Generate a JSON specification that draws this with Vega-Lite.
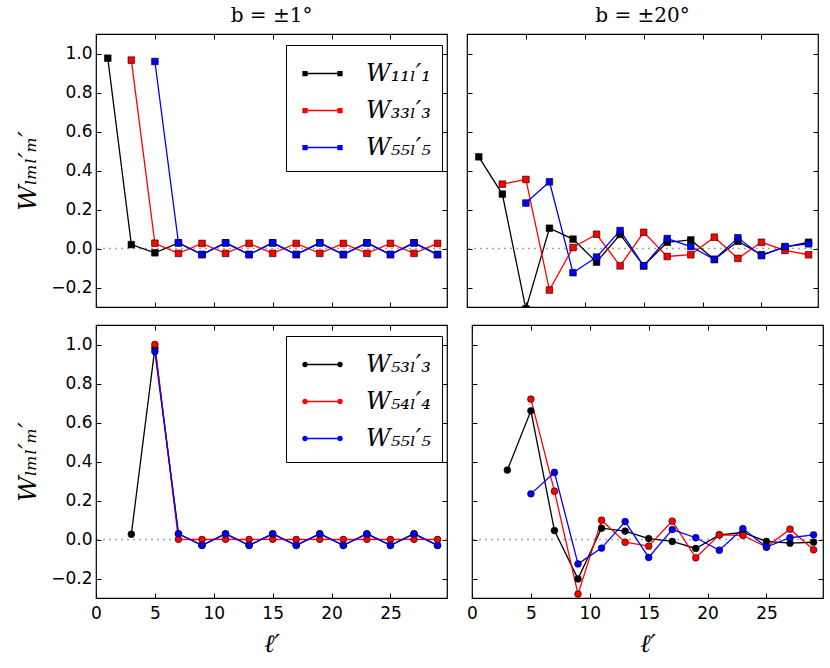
{
  "$schema": "https://vega.github.io/schema/vega-lite/v6.json",
  "padding": {"left": 15, "top": 4, "right": 8, "bottom": 5},
  "background": "white",
  "config": {
    "view": {"stroke": "black", "strokeWidth": 1.2},
    "title": {"font": "DejaVu Serif", "fontSize": 20, "fontWeight": "normal", "color": "black", "offset": 8},
    "axis": {
      "domain": false, "grid": false, "tickColor": "black", "tickSize": -5, "tickWidth": 1,
      "labelFont": "DejaVu Sans", "labelFontSize": 17, "labelColor": "black", "labelPadding": 9, "labelFlush": false,
      "titleFont": "DejaVu Serif", "titleFontStyle": "italic", "titleFontWeight": "normal", "titleFontSize": 25, "titleColor": "black"
    },
    "axisX": {"labelPadding": 12},
    "legend": {
      "orient": "none", "legendX": 190, "legendY": 11, "title": null,
      "strokeColor": "black", "fillColor": "white", "padding": 11, "rowPadding": 7, "cornerRadius": 0,
      "symbolSize": 1225, "symbolOffset": 8, "symbolStrokeWidth": 0, "labelOffset": 26,
      "labelFont": "DejaVu Serif", "labelFontStyle": "italic", "labelFontSize": 24, "labelColor": "black"
    }
  },
  "data": {"values": [
    {"p": "TL", "s": "W₁₁ₗ′₁", "l": 1, "w": 0.976},
    {"p": "TL", "s": "W₁₁ₗ′₁", "l": 3, "w": 0.020},
    {"p": "TL", "s": "W₁₁ₗ′₁", "l": 5, "w": -0.022},
    {"p": "TL", "s": "W₁₁ₗ′₁", "l": 7, "w": 0.029},
    {"p": "TL", "s": "W₁₁ₗ′₁", "l": 9, "w": -0.031},
    {"p": "TL", "s": "W₁₁ₗ′₁", "l": 11, "w": 0.029},
    {"p": "TL", "s": "W₁₁ₗ′₁", "l": 13, "w": -0.031},
    {"p": "TL", "s": "W₁₁ₗ′₁", "l": 15, "w": 0.029},
    {"p": "TL", "s": "W₁₁ₗ′₁", "l": 17, "w": -0.031},
    {"p": "TL", "s": "W₁₁ₗ′₁", "l": 19, "w": 0.029},
    {"p": "TL", "s": "W₁₁ₗ′₁", "l": 21, "w": -0.031},
    {"p": "TL", "s": "W₁₁ₗ′₁", "l": 23, "w": 0.029},
    {"p": "TL", "s": "W₁₁ₗ′₁", "l": 25, "w": -0.031},
    {"p": "TL", "s": "W₁₁ₗ′₁", "l": 27, "w": 0.029},
    {"p": "TL", "s": "W₁₁ₗ′₁", "l": 29, "w": -0.031},
    {"p": "TL", "s": "W₃₃ₗ′₃", "l": 3, "w": 0.966},
    {"p": "TL", "s": "W₃₃ₗ′₃", "l": 5, "w": 0.027},
    {"p": "TL", "s": "W₃₃ₗ′₃", "l": 7, "w": -0.025},
    {"p": "TL", "s": "W₃₃ₗ′₃", "l": 9, "w": 0.026},
    {"p": "TL", "s": "W₃₃ₗ′₃", "l": 11, "w": -0.025},
    {"p": "TL", "s": "W₃₃ₗ′₃", "l": 13, "w": 0.026},
    {"p": "TL", "s": "W₃₃ₗ′₃", "l": 15, "w": -0.025},
    {"p": "TL", "s": "W₃₃ₗ′₃", "l": 17, "w": 0.026},
    {"p": "TL", "s": "W₃₃ₗ′₃", "l": 19, "w": -0.025},
    {"p": "TL", "s": "W₃₃ₗ′₃", "l": 21, "w": 0.026},
    {"p": "TL", "s": "W₃₃ₗ′₃", "l": 23, "w": -0.025},
    {"p": "TL", "s": "W₃₃ₗ′₃", "l": 25, "w": 0.026},
    {"p": "TL", "s": "W₃₃ₗ′₃", "l": 27, "w": -0.025},
    {"p": "TL", "s": "W₃₃ₗ′₃", "l": 29, "w": 0.026},
    {"p": "TL", "s": "W₅₅ₗ′₅", "l": 5, "w": 0.959},
    {"p": "TL", "s": "W₅₅ₗ′₅", "l": 7, "w": 0.029},
    {"p": "TL", "s": "W₅₅ₗ′₅", "l": 9, "w": -0.031},
    {"p": "TL", "s": "W₅₅ₗ′₅", "l": 11, "w": 0.029},
    {"p": "TL", "s": "W₅₅ₗ′₅", "l": 13, "w": -0.031},
    {"p": "TL", "s": "W₅₅ₗ′₅", "l": 15, "w": 0.029},
    {"p": "TL", "s": "W₅₅ₗ′₅", "l": 17, "w": -0.031},
    {"p": "TL", "s": "W₅₅ₗ′₅", "l": 19, "w": 0.029},
    {"p": "TL", "s": "W₅₅ₗ′₅", "l": 21, "w": -0.031},
    {"p": "TL", "s": "W₅₅ₗ′₅", "l": 23, "w": 0.029},
    {"p": "TL", "s": "W₅₅ₗ′₅", "l": 25, "w": -0.031},
    {"p": "TL", "s": "W₅₅ₗ′₅", "l": 27, "w": 0.029},
    {"p": "TL", "s": "W₅₅ₗ′₅", "l": 29, "w": -0.031},

    {"p": "TR", "s": "W₁₁ₗ′₁", "l": 1, "w": 0.470},
    {"p": "TR", "s": "W₁₁ₗ′₁", "l": 3, "w": 0.279},
    {"p": "TR", "s": "W₁₁ₗ′₁", "l": 5, "w": -0.31},
    {"p": "TR", "s": "W₁₁ₗ′₁", "l": 7, "w": 0.104},
    {"p": "TR", "s": "W₁₁ₗ′₁", "l": 9, "w": 0.048},
    {"p": "TR", "s": "W₁₁ₗ′₁", "l": 11, "w": -0.070},
    {"p": "TR", "s": "W₁₁ₗ′₁", "l": 13, "w": 0.072},
    {"p": "TR", "s": "W₁₁ₗ′₁", "l": 15, "w": -0.089},
    {"p": "TR", "s": "W₁₁ₗ′₁", "l": 17, "w": 0.032},
    {"p": "TR", "s": "W₁₁ₗ′₁", "l": 19, "w": 0.044},
    {"p": "TR", "s": "W₁₁ₗ′₁", "l": 21, "w": -0.056},
    {"p": "TR", "s": "W₁₁ₗ′₁", "l": 23, "w": 0.037},
    {"p": "TR", "s": "W₁₁ₗ′₁", "l": 25, "w": -0.032},
    {"p": "TR", "s": "W₁₁ₗ′₁", "l": 27, "w": 0.007},
    {"p": "TR", "s": "W₁₁ₗ′₁", "l": 29, "w": 0.032},
    {"p": "TR", "s": "W₃₃ₗ′₃", "l": 3, "w": 0.330},
    {"p": "TR", "s": "W₃₃ₗ′₃", "l": 5, "w": 0.354},
    {"p": "TR", "s": "W₃₃ₗ′₃", "l": 7, "w": -0.213},
    {"p": "TR", "s": "W₃₃ₗ′₃", "l": 9, "w": 0.005},
    {"p": "TR", "s": "W₃₃ₗ′₃", "l": 11, "w": 0.073},
    {"p": "TR", "s": "W₃₃ₗ′₃", "l": 13, "w": -0.089},
    {"p": "TR", "s": "W₃₃ₗ′₃", "l": 15, "w": 0.083},
    {"p": "TR", "s": "W₃₃ₗ′₃", "l": 17, "w": -0.041},
    {"p": "TR", "s": "W₃₃ₗ′₃", "l": 19, "w": -0.032},
    {"p": "TR", "s": "W₃₃ₗ′₃", "l": 21, "w": 0.058},
    {"p": "TR", "s": "W₃₃ₗ′₃", "l": 23, "w": -0.051},
    {"p": "TR", "s": "W₃₃ₗ′₃", "l": 25, "w": 0.032},
    {"p": "TR", "s": "W₃₃ₗ′₃", "l": 27, "w": -0.010},
    {"p": "TR", "s": "W₃₃ₗ′₃", "l": 29, "w": -0.032},
    {"p": "TR", "s": "W₅₅ₗ′₅", "l": 5, "w": 0.233},
    {"p": "TR", "s": "W₅₅ₗ′₅", "l": 7, "w": 0.342},
    {"p": "TR", "s": "W₅₅ₗ′₅", "l": 9, "w": -0.124},
    {"p": "TR", "s": "W₅₅ₗ′₅", "l": 11, "w": -0.044},
    {"p": "TR", "s": "W₅₅ₗ′₅", "l": 13, "w": 0.092},
    {"p": "TR", "s": "W₅₅ₗ′₅", "l": 15, "w": -0.089},
    {"p": "TR", "s": "W₅₅ₗ′₅", "l": 17, "w": 0.051},
    {"p": "TR", "s": "W₅₅ₗ′₅", "l": 19, "w": 0.010},
    {"p": "TR", "s": "W₅₅ₗ′₅", "l": 21, "w": -0.056},
    {"p": "TR", "s": "W₅₅ₗ′₅", "l": 23, "w": 0.055},
    {"p": "TR", "s": "W₅₅ₗ′₅", "l": 25, "w": -0.037},
    {"p": "TR", "s": "W₅₅ₗ′₅", "l": 27, "w": 0.010},
    {"p": "TR", "s": "W₅₅ₗ′₅", "l": 29, "w": 0.024},

    {"p": "BL", "s": "W₅₃ₗ′₃", "l": 3, "w": 0.027},
    {"p": "BL", "s": "W₅₃ₗ′₃", "l": 5, "w": 0.981},
    {"p": "BL", "s": "W₅₃ₗ′₃", "l": 7, "w": 0.029},
    {"p": "BL", "s": "W₅₃ₗ′₃", "l": 9, "w": -0.030},
    {"p": "BL", "s": "W₅₃ₗ′₃", "l": 11, "w": 0.029},
    {"p": "BL", "s": "W₅₃ₗ′₃", "l": 13, "w": -0.030},
    {"p": "BL", "s": "W₅₃ₗ′₃", "l": 15, "w": 0.029},
    {"p": "BL", "s": "W₅₃ₗ′₃", "l": 17, "w": -0.030},
    {"p": "BL", "s": "W₅₃ₗ′₃", "l": 19, "w": 0.029},
    {"p": "BL", "s": "W₅₃ₗ′₃", "l": 21, "w": -0.030},
    {"p": "BL", "s": "W₅₃ₗ′₃", "l": 23, "w": 0.029},
    {"p": "BL", "s": "W₅₃ₗ′₃", "l": 25, "w": -0.030},
    {"p": "BL", "s": "W₅₃ₗ′₃", "l": 27, "w": 0.029},
    {"p": "BL", "s": "W₅₃ₗ′₃", "l": 29, "w": -0.030},
    {"p": "BL", "s": "W₅₄ₗ′₄", "l": 5, "w": 1.000},
    {"p": "BL", "s": "W₅₄ₗ′₄", "l": 7, "w": 0.001},
    {"p": "BL", "s": "W₅₄ₗ′₄", "l": 9, "w": 0.000},
    {"p": "BL", "s": "W₅₄ₗ′₄", "l": 11, "w": 0.001},
    {"p": "BL", "s": "W₅₄ₗ′₄", "l": 13, "w": 0.000},
    {"p": "BL", "s": "W₅₄ₗ′₄", "l": 15, "w": 0.001},
    {"p": "BL", "s": "W₅₄ₗ′₄", "l": 17, "w": 0.000},
    {"p": "BL", "s": "W₅₄ₗ′₄", "l": 19, "w": 0.001},
    {"p": "BL", "s": "W₅₄ₗ′₄", "l": 21, "w": 0.000},
    {"p": "BL", "s": "W₅₄ₗ′₄", "l": 23, "w": 0.001},
    {"p": "BL", "s": "W₅₄ₗ′₄", "l": 25, "w": 0.000},
    {"p": "BL", "s": "W₅₄ₗ′₄", "l": 27, "w": 0.001},
    {"p": "BL", "s": "W₅₄ₗ′₄", "l": 29, "w": 0.000},
    {"p": "BL", "s": "W₅₅ₗ′₅", "l": 5, "w": 0.964},
    {"p": "BL", "s": "W₅₅ₗ′₅", "l": 7, "w": 0.029},
    {"p": "BL", "s": "W₅₅ₗ′₅", "l": 9, "w": -0.030},
    {"p": "BL", "s": "W₅₅ₗ′₅", "l": 11, "w": 0.029},
    {"p": "BL", "s": "W₅₅ₗ′₅", "l": 13, "w": -0.030},
    {"p": "BL", "s": "W₅₅ₗ′₅", "l": 15, "w": 0.029},
    {"p": "BL", "s": "W₅₅ₗ′₅", "l": 17, "w": -0.030},
    {"p": "BL", "s": "W₅₅ₗ′₅", "l": 19, "w": 0.029},
    {"p": "BL", "s": "W₅₅ₗ′₅", "l": 21, "w": -0.030},
    {"p": "BL", "s": "W₅₅ₗ′₅", "l": 23, "w": 0.029},
    {"p": "BL", "s": "W₅₅ₗ′₅", "l": 25, "w": -0.030},
    {"p": "BL", "s": "W₅₅ₗ′₅", "l": 27, "w": 0.029},
    {"p": "BL", "s": "W₅₅ₗ′₅", "l": 29, "w": -0.030},

    {"p": "BR", "s": "W₅₃ₗ′₃", "l": 3, "w": 0.356},
    {"p": "BR", "s": "W₅₃ₗ′₃", "l": 5, "w": 0.660},
    {"p": "BR", "s": "W₅₃ₗ′₃", "l": 7, "w": 0.046},
    {"p": "BR", "s": "W₅₃ₗ′₃", "l": 9, "w": -0.202},
    {"p": "BR", "s": "W₅₃ₗ′₃", "l": 11, "w": 0.058},
    {"p": "BR", "s": "W₅₃ₗ′₃", "l": 13, "w": 0.043},
    {"p": "BR", "s": "W₅₃ₗ′₃", "l": 15, "w": 0.005},
    {"p": "BR", "s": "W₅₃ₗ′₃", "l": 17, "w": -0.010},
    {"p": "BR", "s": "W₅₃ₗ′₃", "l": 19, "w": -0.046},
    {"p": "BR", "s": "W₅₃ₗ′₃", "l": 21, "w": 0.024},
    {"p": "BR", "s": "W₅₃ₗ′₃", "l": 23, "w": 0.036},
    {"p": "BR", "s": "W₅₃ₗ′₃", "l": 25, "w": -0.010},
    {"p": "BR", "s": "W₅₃ₗ′₃", "l": 27, "w": -0.019},
    {"p": "BR", "s": "W₅₃ₗ′₃", "l": 29, "w": -0.014},
    {"p": "BR", "s": "W₅₄ₗ′₄", "l": 5, "w": 0.720},
    {"p": "BR", "s": "W₅₄ₗ′₄", "l": 7, "w": 0.248},
    {"p": "BR", "s": "W₅₄ₗ′₄", "l": 9, "w": -0.280},
    {"p": "BR", "s": "W₅₄ₗ′₄", "l": 11, "w": 0.099},
    {"p": "BR", "s": "W₅₄ₗ′₄", "l": 13, "w": -0.014},
    {"p": "BR", "s": "W₅₄ₗ′₄", "l": 15, "w": -0.034},
    {"p": "BR", "s": "W₅₄ₗ′₄", "l": 17, "w": 0.094},
    {"p": "BR", "s": "W₅₄ₗ′₄", "l": 19, "w": -0.094},
    {"p": "BR", "s": "W₅₄ₗ′₄", "l": 21, "w": 0.024},
    {"p": "BR", "s": "W₅₄ₗ′₄", "l": 23, "w": 0.021},
    {"p": "BR", "s": "W₅₄ₗ′₄", "l": 25, "w": -0.039},
    {"p": "BR", "s": "W₅₄ₗ′₄", "l": 27, "w": 0.053},
    {"p": "BR", "s": "W₅₄ₗ′₄", "l": 29, "w": -0.053},
    {"p": "BR", "s": "W₅₅ₗ′₅", "l": 5, "w": 0.234},
    {"p": "BR", "s": "W₅₅ₗ′₅", "l": 7, "w": 0.344},
    {"p": "BR", "s": "W₅₅ₗ′₅", "l": 9, "w": -0.125},
    {"p": "BR", "s": "W₅₅ₗ′₅", "l": 11, "w": -0.044},
    {"p": "BR", "s": "W₅₅ₗ′₅", "l": 13, "w": 0.092},
    {"p": "BR", "s": "W₅₅ₗ′₅", "l": 15, "w": -0.092},
    {"p": "BR", "s": "W₅₅ₗ′₅", "l": 17, "w": 0.051},
    {"p": "BR", "s": "W₅₅ₗ′₅", "l": 19, "w": 0.009},
    {"p": "BR", "s": "W₅₅ₗ′₅", "l": 21, "w": -0.055},
    {"p": "BR", "s": "W₅₅ₗ′₅", "l": 23, "w": 0.056},
    {"p": "BR", "s": "W₅₅ₗ′₅", "l": 25, "w": -0.039},
    {"p": "BR", "s": "W₅₅ₗ′₅", "l": 27, "w": 0.009},
    {"p": "BR", "s": "W₅₅ₗ′₅", "l": 29, "w": 0.024}
  ]},
  "spacing": 14,
  "resolve": {"scale": {"color": "independent"}, "legend": {"color": "independent"}},
  "vconcat": [
    {
      "spacing": 16,
      "resolve": {"scale": {"color": "independent"}, "legend": {"color": "independent"}},
      "hconcat": [
        {
          "width": 351, "height": 273,
          "title": "b = ±1°",
          "resolve": {"axis": {"x": "independent", "y": "independent"}},
          "layer": [
            {"data": {"values": [{"z": 0}]}, "mark": {"type": "rule", "color": "#a6a6a6", "strokeDash": [2, 4], "strokeWidth": 1.5},
             "encoding": {"y": {"field": "z", "type": "quantitative", "axis": null}}},
            {"transform": [{"filter": "datum.p == 'TL'"}],
             "mark": {"type": "line", "strokeWidth": 1.3, "clip": true},
             "encoding": {
               "x": {"field": "l", "type": "quantitative", "scale": {"domain": [0, 29.8], "nice": false, "zero": false}, "axis": {"orient": "bottom", "values": [0, 5, 10, 15, 20, 25], "labels": false, "title": null}},
               "y": {"field": "w", "type": "quantitative", "scale": {"domain": [-0.3, 1.1], "nice": false, "zero": false}, "axis": {"orient": "left", "values": [-0.2, 0, 0.2, 0.4, 0.6, 0.8, 1.0], "format": ".1f", "title": "Wₗₘₗ′ₘ′", "titlePadding": 10}},
               "color": {"field": "s", "type": "nominal", "scale": {"domain": ["W₁₁ₗ′₁", "W₃₃ₗ′₃", "W₅₅ₗ′₅"], "range": ["#000000", "#ff0000", "#0000ff"]},
                 "legend": {"symbolType": "M-1,-0.037H1V0.037H-1Z M-1.15,-0.15H-0.85V0.15H-1.15Z M0.85,-0.15H1.15V0.15H0.85Z"}}
             }},
            {"transform": [{"filter": "datum.p == 'TL'"}],
             "mark": {"type": "point", "shape": "square", "filled": true, "size": 44, "stroke": "black", "strokeWidth": 0.6, "opacity": 1, "clip": true},
             "encoding": {
               "x": {"field": "l", "type": "quantitative", "axis": {"orient": "top", "values": [0, 5, 10, 15, 20, 25], "labels": false, "title": null}},
               "y": {"field": "w", "type": "quantitative", "axis": {"orient": "right", "values": [-0.2, 0, 0.2, 0.4, 0.6, 0.8, 1.0], "labels": false, "title": null}},
               "color": {"field": "s", "type": "nominal",
                 "legend": {"symbolType": "M-1,-0.037H1V0.037H-1Z M-1.15,-0.15H-0.85V0.15H-1.15Z M0.85,-0.15H1.15V0.15H0.85Z"}}
             }}
          ]
        },
        {
          "width": 351, "height": 273,
          "title": "b = ±20°",
          "resolve": {"axis": {"x": "independent", "y": "independent"}},
          "layer": [
            {"data": {"values": [{"z": 0}]}, "mark": {"type": "rule", "color": "#a6a6a6", "strokeDash": [2, 4], "strokeWidth": 1.5},
             "encoding": {"y": {"field": "z", "type": "quantitative", "axis": null}}},
            {"transform": [{"filter": "datum.p == 'TR'"}],
             "mark": {"type": "line", "strokeWidth": 1.3, "clip": true},
             "encoding": {
               "x": {"field": "l", "type": "quantitative", "scale": {"domain": [0, 29.8], "nice": false, "zero": false}, "axis": {"orient": "bottom", "values": [0, 5, 10, 15, 20, 25], "labels": false, "title": null}},
               "y": {"field": "w", "type": "quantitative", "scale": {"domain": [-0.3, 1.1], "nice": false, "zero": false}, "axis": {"orient": "left", "values": [-0.2, 0, 0.2, 0.4, 0.6, 0.8, 1.0], "labels": false, "title": null}},
               "color": {"field": "s", "type": "nominal", "scale": {"domain": ["W₁₁ₗ′₁", "W₃₃ₗ′₃", "W₅₅ₗ′₅"], "range": ["#000000", "#ff0000", "#0000ff"]}, "legend": null}
             }},
            {"transform": [{"filter": "datum.p == 'TR'"}],
             "mark": {"type": "point", "shape": "square", "filled": true, "size": 44, "stroke": "black", "strokeWidth": 0.6, "opacity": 1, "clip": true},
             "encoding": {
               "x": {"field": "l", "type": "quantitative", "axis": {"orient": "top", "values": [0, 5, 10, 15, 20, 25], "labels": false, "title": null}},
               "y": {"field": "w", "type": "quantitative", "axis": {"orient": "right", "values": [-0.2, 0, 0.2, 0.4, 0.6, 0.8, 1.0], "labels": false, "title": null}},
               "color": {"field": "s", "type": "nominal", "legend": null}
             }}
          ]
        }
      ]
    },
    {
      "spacing": 16,
      "resolve": {"scale": {"color": "independent"}, "legend": {"color": "independent"}},
      "hconcat": [
        {
          "width": 351, "height": 273,
          "resolve": {"axis": {"x": "independent", "y": "independent"}},
          "layer": [
            {"data": {"values": [{"z": 0}]}, "mark": {"type": "rule", "color": "#a6a6a6", "strokeDash": [2, 4], "strokeWidth": 1.5},
             "encoding": {"y": {"field": "z", "type": "quantitative", "axis": null}}},
            {"transform": [{"filter": "datum.p == 'BL'"}],
             "mark": {"type": "line", "strokeWidth": 1.3, "clip": true},
             "encoding": {
               "x": {"field": "l", "type": "quantitative", "scale": {"domain": [0, 29.8], "nice": false, "zero": false}, "axis": {"orient": "bottom", "values": [0, 5, 10, 15, 20, 25], "title": "ℓ′", "titlePadding": 10}},
               "y": {"field": "w", "type": "quantitative", "scale": {"domain": [-0.3, 1.1], "nice": false, "zero": false}, "axis": {"orient": "left", "values": [-0.2, 0, 0.2, 0.4, 0.6, 0.8, 1.0], "format": ".1f", "title": "Wₗₘₗ′ₘ′", "titlePadding": 10}},
               "color": {"field": "s", "type": "nominal", "scale": {"domain": ["W₅₃ₗ′₃", "W₅₄ₗ′₄", "W₅₅ₗ′₅"], "range": ["#000000", "#ff0000", "#0000ff"]},
                 "legend": {"symbolType": "M-1,-0.037H1V0.037H-1Z M-0.84,0A0.16,0.16 0 1,1 -1.16,0A0.16,0.16 0 1,1 -0.84,0Z M1.16,0A0.16,0.16 0 1,1 0.84,0A0.16,0.16 0 1,1 1.16,0Z"}}
             }},
            {"transform": [{"filter": "datum.p == 'BL'"}],
             "mark": {"type": "point", "shape": "circle", "filled": true, "size": 46, "stroke": "black", "strokeWidth": 0.6, "opacity": 1, "clip": true},
             "encoding": {
               "x": {"field": "l", "type": "quantitative", "axis": {"orient": "top", "values": [0, 5, 10, 15, 20, 25], "labels": false, "title": null}},
               "y": {"field": "w", "type": "quantitative", "axis": {"orient": "right", "values": [-0.2, 0, 0.2, 0.4, 0.6, 0.8, 1.0], "labels": false, "title": null}},
               "color": {"field": "s", "type": "nominal",
                 "legend": {"symbolType": "M-1,-0.037H1V0.037H-1Z M-0.84,0A0.16,0.16 0 1,1 -1.16,0A0.16,0.16 0 1,1 -0.84,0Z M1.16,0A0.16,0.16 0 1,1 0.84,0A0.16,0.16 0 1,1 1.16,0Z"}}
             }}
          ]
        },
        {
          "width": 351, "height": 273,
          "resolve": {"axis": {"x": "independent", "y": "independent"}},
          "layer": [
            {"data": {"values": [{"z": 0}]}, "mark": {"type": "rule", "color": "#a6a6a6", "strokeDash": [2, 4], "strokeWidth": 1.5},
             "encoding": {"y": {"field": "z", "type": "quantitative", "axis": null}}},
            {"transform": [{"filter": "datum.p == 'BR'"}],
             "mark": {"type": "line", "strokeWidth": 1.3, "clip": true},
             "encoding": {
               "x": {"field": "l", "type": "quantitative", "scale": {"domain": [0, 29.8], "nice": false, "zero": false}, "axis": {"orient": "bottom", "values": [0, 5, 10, 15, 20, 25], "title": "ℓ′", "titlePadding": 10}},
               "y": {"field": "w", "type": "quantitative", "scale": {"domain": [-0.3, 1.1], "nice": false, "zero": false}, "axis": {"orient": "left", "values": [-0.2, 0, 0.2, 0.4, 0.6, 0.8, 1.0], "labels": false, "title": null}},
               "color": {"field": "s", "type": "nominal", "scale": {"domain": ["W₅₃ₗ′₃", "W₅₄ₗ′₄", "W₅₅ₗ′₅"], "range": ["#000000", "#ff0000", "#0000ff"]}, "legend": null}
             }},
            {"transform": [{"filter": "datum.p == 'BR'"}],
             "mark": {"type": "point", "shape": "circle", "filled": true, "size": 46, "stroke": "black", "strokeWidth": 0.6, "opacity": 1, "clip": true},
             "encoding": {
               "x": {"field": "l", "type": "quantitative", "axis": {"orient": "top", "values": [0, 5, 10, 15, 20, 25], "labels": false, "title": null}},
               "y": {"field": "w", "type": "quantitative", "axis": {"orient": "right", "values": [-0.2, 0, 0.2, 0.4, 0.6, 0.8, 1.0], "labels": false, "title": null}},
               "color": {"field": "s", "type": "nominal", "legend": null}
             }}
          ]
        }
      ]
    }
  ]
}
